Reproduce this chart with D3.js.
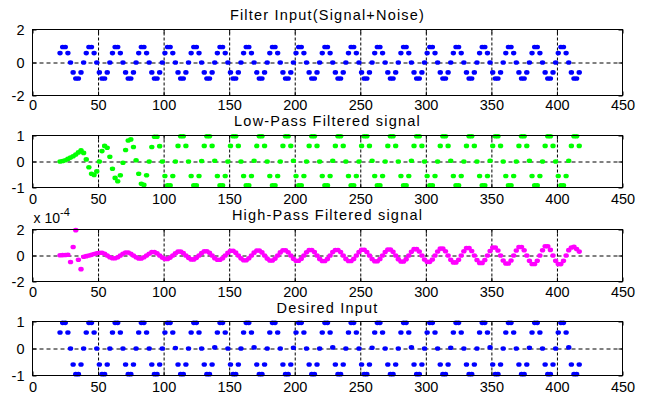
<!DOCTYPE html>
<html>
<head>
<meta charset="utf-8">
<script src="https://cdn.jsdelivr.net/npm/d3@7"></script>
<style>
  body { margin: 0; background: #fff; }
  text { font-family: "Liberation Sans", Arial, sans-serif; fill: #000; }
</style>
</head>
<body>
<svg id="chart" width="652" height="394"></svg>
<script>
// x axis ticks, shared by all four subplots
const xTicks = [0, 50, 100, 150, 200, 250, 300, 350, 400, 450];
// samples sit on every second x position, starting at 21
const sampleStart = 21;
const sampleStep = 2;

const filterInput = [
  0.57,0.94,0.94,0.57,0,-0.6,-0.97,-0.97,-0.6,0,
  0.57,0.94,0.94,0.57,0,-0.6,-0.97,-0.97,-0.6,0,
  0.57,0.94,0.94,0.57,0,-0.6,-0.97,-0.97,-0.6,0,
  0.57,0.94,0.94,0.57,0,-0.6,-0.97,-0.97,-0.6,0,
  0.57,0.94,0.94,0.57,0,-0.6,-0.97,-0.97,-0.6,0,
  0.57,0.94,0.94,0.57,0,-0.6,-0.97,-0.97,-0.6,0,
  0.57,0.94,0.94,0.57,0,-0.6,-0.97,-0.97,-0.6,0,
  0.57,0.94,0.94,0.57,0,-0.6,-0.97,-0.97,-0.6,0,
  0.57,0.94,0.94,0.57,0,-0.6,-0.97,-0.97,-0.6,0,
  0.57,0.94,0.94,0.57,0,-0.6,-0.97,-0.97,-0.6,0,
  0.57,0.94,0.94,0.57,0,-0.6,-0.97,-0.97,-0.6,0,
  0.57,0.94,0.94,0.57,0,-0.6,-0.97,-0.97,-0.6,0,
  0.57,0.94,0.94,0.57,0,-0.6,-0.97,-0.97,-0.6,0,
  0.57,0.94,0.94,0.57,0,-0.6,-0.97,-0.97,-0.6,0,
  0.57,0.94,0.94,0.57,0,-0.6,-0.97,-0.97,-0.6,0,
  0.57,0.94,0.94,0.57,0,-0.6,-0.97,-0.97,-0.6,0,
  0.57,0.94,0.94,0.57,0,-0.6,-0.97,-0.97,-0.6,0,
  0.57,0.94,0.94,0.57,0,-0.6,-0.97,-0.97,-0.6,0,
  0.57,0.94,0.94,0.57,0,-0.6,-0.97,-0.97,-0.6,0,
  0.57,0.94,0.94,0.57,0,-0.6,-0.97,-0.97,-0.6
];

const lowPass = [
  0,0.02,0.05,0.1,0.15,0.2,0.27,0.35,0.43,0.33,
  0.08,-0.22,-0.47,-0.52,-0.38,0,0.4,0.6,0.53,0.18,
  -0.28,-0.63,-0.76,-0.53,-0.05,0.44,0.81,0.85,0.56,0.05,
  -0.47,-0.86,-0.9,-0.53,0,0.56,0.95,0.95,0.59,0,
  -0.56,-0.92,-0.92,-0.56,0,0.6,0.97,0.97,0.6,0,
  -0.56,-0.92,-0.92,-0.56,0.02,0.6,0.97,0.97,0.6,0.03,
  -0.56,-0.92,-0.92,-0.56,0,0.6,0.97,0.97,0.6,0,
  -0.56,-0.92,-0.92,-0.56,0.03,0.6,0.97,0.97,0.6,0,
  -0.56,-0.92,-0.92,-0.56,0,0.6,0.97,0.97,0.6,0.03,
  -0.56,-0.92,-0.92,-0.56,0,0.6,0.97,0.97,0.6,0,
  -0.56,-0.92,-0.92,-0.56,0.03,0.6,0.97,0.97,0.6,0,
  -0.56,-0.92,-0.92,-0.56,0,0.6,0.97,0.97,0.6,0.03,
  -0.56,-0.92,-0.92,-0.56,0,0.6,0.97,0.97,0.6,0,
  -0.56,-0.92,-0.92,-0.56,0.03,0.6,0.97,0.97,0.6,0,
  -0.56,-0.92,-0.92,-0.56,0,0.6,0.97,0.97,0.6,0.03,
  -0.56,-0.92,-0.92,-0.56,0,0.6,0.97,0.97,0.6,0,
  -0.56,-0.92,-0.92,-0.56,0.03,0.6,0.97,0.97,0.6,0,
  -0.56,-0.92,-0.92,-0.56,0,0.6,0.97,0.97,0.6,0.03,
  -0.56,-0.92,-0.92,-0.56,0,0.6,0.97,0.97,0.6,0,
  -0.56,-0.92,-0.92,-0.56,0.03,0.6,0.97,0.97,0.6
];

// high-pass output, in units of 1e-4
const highPass = [
  0.02,0.03,0.04,0.06,-0.5,0.65,1.95,-0.33,-1.05,-0.1,
  -0.05,0,0.05,0.12,0.17,
  0.21,0.21,0.13,0,-0.13,-0.21,-0.21,-0.13,0,0.13,
  0.23,0.23,0.14,0,-0.14,-0.23,-0.23,-0.14,0,0.14,
  0.26,0.26,0.16,0,-0.16,-0.26,-0.26,-0.16,0,0.16,
  0.3,0.3,0.18,0,-0.18,-0.3,-0.3,-0.18,0,0.18,
  0.33,0.33,0.21,0,-0.21,-0.33,-0.33,-0.21,0,0.21,
  0.36,0.36,0.22,0,-0.22,-0.36,-0.36,-0.22,0,0.22,
  0.38,0.38,0.24,0,-0.24,-0.38,-0.38,-0.24,0,0.24,
  0.4,0.4,0.25,0,-0.25,-0.4,-0.4,-0.25,0,0.25,
  0.42,0.42,0.26,0,-0.26,-0.42,-0.42,-0.26,0,0.26,
  0.42,0.42,0.26,0,-0.26,-0.42,-0.42,-0.26,0,0.26,
  0.44,0.44,0.27,0,-0.27,-0.44,-0.44,-0.27,0,0.27,
  0.46,0.46,0.28,0,-0.28,-0.46,-0.46,-0.28,0,0.28,
  0.49,0.49,0.31,0,-0.31,-0.49,-0.49,-0.31,0,0.31,
  0.53,0.53,0.33,0,-0.33,-0.53,-0.53,-0.33,0,0.33,
  0.57,0.57,0.35,0,-0.35,-0.57,-0.57,-0.35,0,0.35,
  0.61,0.61,0.38,0,-0.38,-0.61,-0.61,-0.38,0,0.38,
  0.65,0.65,0.4,0,-0.4,-0.65,-0.65,-0.4,0,0.4,
  0.71,0.71,0.43,0,-0.41,-0.66,-0.66,-0.41,0,0.41,
  0.62,0.66,0.5,0.3
];

const desiredInput = [
  0.59,0.95,0.95,0.59,0,-0.59,-0.95,-0.95,-0.59,0,
  0.59,0.95,0.95,0.59,0,-0.59,-0.95,-0.95,-0.59,0,
  0.59,0.95,0.95,0.59,0,-0.59,-0.95,-0.95,-0.59,0,
  0.59,0.95,0.95,0.59,0,-0.59,-0.95,-0.95,-0.59,0,
  0.59,0.95,0.95,0.59,0.02,-0.59,-0.95,-0.95,-0.59,0,
  0.59,0.95,0.95,0.59,0,-0.59,-0.95,-0.95,-0.59,0.04,
  0.59,0.95,0.95,0.59,0,-0.59,-0.95,-0.95,-0.59,0,
  0.59,0.95,0.95,0.59,0.04,-0.59,-0.95,-0.95,-0.59,0,
  0.59,0.95,0.95,0.59,0,-0.59,-0.95,-0.95,-0.59,0.03,
  0.59,0.95,0.95,0.59,0,-0.59,-0.95,-0.95,-0.59,0,
  0.59,0.95,0.95,0.59,0.04,-0.59,-0.95,-0.95,-0.59,0,
  0.59,0.95,0.95,0.59,0,-0.59,-0.95,-0.95,-0.59,0.03,
  0.59,0.95,0.95,0.59,0,-0.59,-0.95,-0.95,-0.59,0,
  0.59,0.95,0.95,0.59,0.04,-0.59,-0.95,-0.95,-0.59,0,
  0.59,0.95,0.95,0.59,0,-0.59,-0.95,-0.95,-0.59,0.03,
  0.59,0.95,0.95,0.59,0,-0.59,-0.95,-0.95,-0.59,0,
  0.59,0.95,0.95,0.59,0.04,-0.59,-0.95,-0.95,-0.59,0,
  0.59,0.95,0.95,0.59,0,-0.59,-0.95,-0.95,-0.59,0.03,
  0.59,0.95,0.95,0.59,0,-0.59,-0.95,-0.95,-0.59,0,
  0.59,0.95,0.95,0.59,0.04,-0.59,-0.95,-0.95,-0.59
];

const panels = [
  { title: 'Filter Input(Signal+Noise)', values: filterInput, color: '#0000ff',
    yDomain: [-2, 2], yTicks: [-2, 0, 2], top: 29.5, bottom: 95.5, labelY: 109.5, titleY: 19.5 },
  { title: 'Low-Pass Filtered signal', values: lowPass, color: '#00ff00',
    yDomain: [-1, 1], yTicks: [-1, 0, 1], top: 135.5, bottom: 187.5, labelY: 203.5, titleY: 125.5 },
  { title: 'High-Pass Filtered signal', values: highPass, color: '#ff00ff',
    yDomain: [-2, 2], yTicks: [-2, 0, 2], top: 229.5, bottom: 281.5, labelY: 296.5, titleY: 219.5, exponent: '-4' },
  { title: 'Desired Input', values: desiredInput, color: '#0000ff',
    yDomain: [-1, 1], yTicks: [-1, 0, 1], top: 321.5, bottom: 375.5, labelY: 391.5, titleY: 312.8 }
];

const svg = d3.select('#chart');
const left = 32.5, right = 622.5;
const fontSize = 14.5;

const x = d3.scaleLinear().domain([0, 450]).range([left, right]);

panels.forEach((p) => {
  const y = d3.scaleLinear().domain(p.yDomain).range([p.bottom, p.top]);
  const h = p.bottom - p.top;
  const g = svg.append('g');

  // grid (dashed), drawn under the data
  g.append('g')
    .attr('transform', 'translate(0,' + p.bottom + ')')
    .call(d3.axisBottom(x).tickValues(xTicks.slice(1, -1)).tickSize(-h).tickFormat(''))
    .call(a => a.select('.domain').remove())
    .selectAll('line')
    .attr('stroke', '#000')
    .attr('stroke-dasharray', '3,2');
  g.append('g')
    .attr('transform', 'translate(' + left + ',0)')
    .call(d3.axisLeft(y).tickValues([0]).tickSize(-(right - left)).tickFormat(''))
    .call(a => a.select('.domain').remove())
    .selectAll('line')
    .attr('stroke', '#000')
    .attr('stroke-dasharray', '4,3');

  // data points
  g.append('g')
    .selectAll('ellipse')
    .data(p.values)
    .join('ellipse')
    .attr('cx', (d, i) => x(sampleStart + i * sampleStep))
    .attr('cy', d => y(d))
    .attr('rx', 2.7)
    .attr('ry', 2.3)
    .attr('fill', p.color);

  // box
  g.append('rect')
    .attr('x', left).attr('y', p.top)
    .attr('width', right - left).attr('height', h)
    .attr('fill', 'none')
    .attr('stroke', '#000');

  // ticks and labels
  const bx = g.append('g')
    .attr('transform', 'translate(0,' + p.bottom + ')')
    .call(d3.axisBottom(x).tickValues(xTicks).tickSizeInner(-4).tickSizeOuter(0).tickFormat(d => String(d)));
  bx.select('.domain').remove();
  bx.selectAll('text')
    .attr('dy', null)
    .attr('y', p.labelY - p.bottom)
    .attr('font-size', fontSize);
  bx.attr('font-family', null);

  const tx = g.append('g')
    .attr('transform', 'translate(0,' + p.top + ')')
    .call(d3.axisTop(x).tickValues(xTicks).tickSizeInner(-4).tickSizeOuter(0).tickFormat(''));
  tx.select('.domain').remove();

  const ly = g.append('g')
    .attr('transform', 'translate(' + left + ',0)')
    .call(d3.axisLeft(y).tickValues(p.yTicks).tickSizeInner(-4).tickSizeOuter(0).tickPadding(8).tickFormat(d => String(d)));
  ly.select('.domain').remove();
  ly.selectAll('text').attr('font-size', fontSize);
  ly.attr('font-family', null);

  const ry = g.append('g')
    .attr('transform', 'translate(' + right + ',0)')
    .call(d3.axisRight(y).tickValues(p.yTicks).tickSizeInner(-4).tickSizeOuter(0).tickFormat(''));
  ry.select('.domain').remove();

  // title
  g.append('text')
    .attr('x', (left + right) / 2)
    .attr('y', p.titleY)
    .attr('text-anchor', 'middle')
    .attr('font-size', fontSize)
    .attr('letter-spacing', 1.2)
    .text(p.title);

  // exponent label for the scaled axis
  if (p.exponent) {
    const t = g.append('text')
      .attr('x', left + 1)
      .attr('y', p.top - 7)
      .attr('font-size', 14);
    t.append('tspan').text('x 10');
    t.append('tspan').attr('font-size', 11).attr('dy', -7).text(p.exponent);
  }
});
</script>
</body>
</html>
